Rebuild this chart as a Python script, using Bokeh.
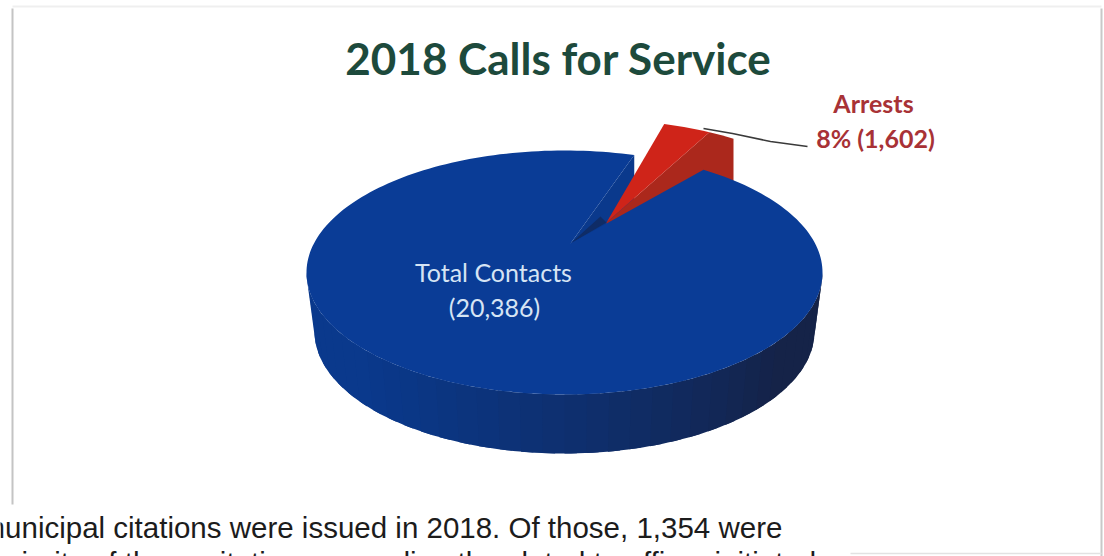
import numpy as np
from bokeh.plotting import figure
from bokeh.models import Range1d
from bokeh.core.properties import value
from bokeh.embed import file_html
from bokeh.resources import INLINE

# ---- data
title = "2018 Calls for Service"
categories = ["Total Contacts", "Arrests"]
counts = [20386, 1602]
percent_labels = ["(20,386)", "8% (1,602)"]
drawn_shares = [0.953, 0.047]      # slice sizes as they appear in the tilted drawing
first_angle_deg = 57.4             # where the Arrests wedge begins on the rim
body_lines = ["municipal citations were issued in 2018. Of those, 1,354 were",
              "majority of those citations were directly related to officer initiated"]

# ---- layout: x range / y range are the image's pixel coordinates
CX, CY, RX, RY = 564, 272, 258, 122
BCX, BCY, BRX, BRY = 564, 331, 250, 122
APEX = (570, 243)
EXPLODE = (30, -31)
DEPTH = 58
W, H = 1104, 556

p = figure(width=W, height=H, x_range=Range1d(0, 1104), y_range=Range1d(556, 0),
           output_backend="svg", toolbar_location=None, min_border=0,
           background_fill_color="white", border_fill_color="white")
p.axis.visible = False
p.grid.visible = False
p.outline_line_color = None

# scanned page frame
p.line([12, 12], [8, 504], line_color="#c4c4c4", line_width=2)
p.line([12, 1101], [6, 6], line_color="#efefef", line_width=2)
p.line([1101, 1101], [8, 556], line_color="#c8c8c8", line_width=2)
p.line([850, 1101], [553, 553], line_color="#e2e2e2", line_width=1.5)

def rim(t):
    return CX + RX*np.cos(t), CY - RY*np.sin(t)

def base(t):
    return BCX + BRX*np.cos(t), BCY - BRY*np.sin(t)

# outer wall of the big slice, shaded from left to right (strips overlap to avoid seams)
stops = np.linspace(np.pi, 2*np.pi, 37)
lo = np.array([0x0a, 0x39, 0x8c]); hi = np.array([0x15, 0x23, 0x48])
for i in range(len(stops)-1):
    a, b = stops[i], min(stops[i+1] + 0.05, 2*np.pi)
    tt = np.linspace(a, b, 6)
    x1, y1 = rim(tt); x2, y2 = base(tt[::-1])
    f = min(1, max(0, (i/36 - 0.2)/0.6))**1.2
    c = (lo + (hi-lo)*f).astype(int)
    col = "#%02x%02x%02x" % tuple(c)
    p.patch([*x1, *x2], [*y1, *y2], fill_color=col, line_color=None)

a0 = np.deg2rad(first_angle_deg)
a1 = a0 + 2*np.pi*drawn_shares[1]

# cut wall of the big slice, seen through the gap
gx, gy = rim(a1)
p.patch([APEX[0], gx, gx, APEX[0]], [APEX[1], gy, gy+DEPTH, APEX[1]+DEPTH],
        fill_color="#0a398c", line_color=None)

# Arrests wedge, pulled out
ta = np.linspace(a0, a1, 12)
rx_, ry_ = rim(ta)
rx_ = rx_ + EXPLODE[0]; ry_ = ry_ + EXPLODE[1]
tip = (606, 222)
p.patch([tip[0], *rx_[4::-1], rx_[0], tip[0]],
        [tip[1], *ry_[4::-1], ry_[0]+DEPTH, tip[1]+DEPTH],
        fill_color="#ab281c", line_color=None)
p.patch([tip[0], *rx_[4:]], [tip[1], *ry_[4:]], fill_color="#cf2419", line_color=None)

# dark sliver where the cut reaches the middle
p.patch([APEX[0], tip[0], tip[0]-6], [APEX[1], tip[1], tip[1]-6], fill_color="#0f2c66", line_color=None)

# top of the big slice
tb = np.linspace(a1, a0 + 2*np.pi, 240)
bx, by = rim(tb)
p.patch([APEX[0], *bx], [APEX[1], *by], fill_color="#0a3c96", line_color=None)

# leader
p.line([703, 732, 770, 807], [128, 133, 141, 146], line_color="#3a3a3a", line_width=1.5)

# texts
bold = dict(text_font=value("Lato"), text_font_style="bold", text_align="center", text_baseline="middle")
p.text([558], [57], text=[title], text_font_size="44px", text_color="#1d4a3c", **bold)
p.text([873], [102], text=[categories[1]], text_font_size="25px", text_color="#a83236", **bold)
p.text([875], [137], text=[percent_labels[1]], text_font_size="25px", text_color="#a83236", **bold)
plain = dict(text_font=value("Lato"), text_align="center", text_baseline="middle", text_color="#d6e4f4")
p.text([493], [271], text=[categories[0]], text_font_size="25px", **plain)
p.text([494], [306], text=[percent_labels[0]], text_font_size="25px", **plain)
body = dict(text_font=value("Liberation Sans"), text_font_size="29.5px", text_color="#1c1c1c",
            text_align="left", text_baseline="middle")
p.text([-20], [527], text=[body_lines[0]], **body)
p.text([-20], [562], text=[body_lines[1]], **body)

open("out.html", "w").write(file_html(p, INLINE))
